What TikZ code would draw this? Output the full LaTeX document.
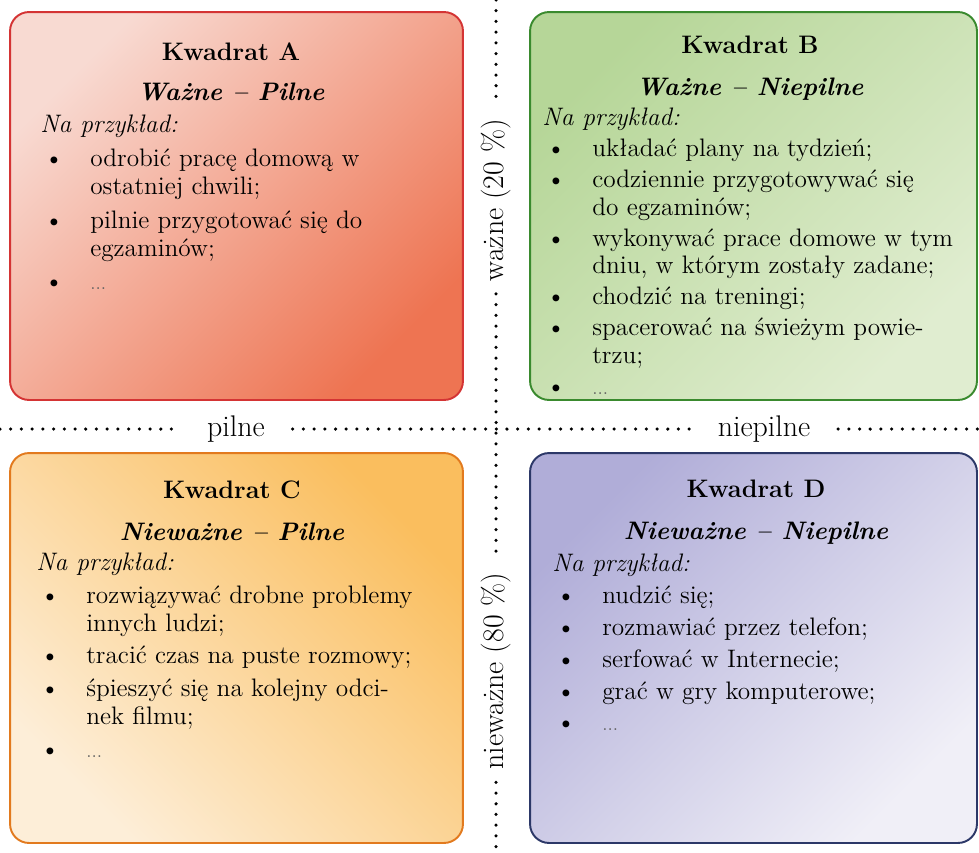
\documentclass[tikz,border=0pt]{standalone}
\usepackage{fontspec}
\usetikzlibrary{positioning}

\definecolor{aJasny}{RGB}{248,218,210}
\definecolor{aCiemny}{RGB}{238,116,82}
\definecolor{aRamka}{RGB}{212,52,52}
\definecolor{bJasny}{RGB}{224,237,208}
\definecolor{bCiemny}{RGB}{182,214,152}
\definecolor{bRamka}{RGB}{58,138,46}
\definecolor{cJasny}{RGB}{253,238,216}
\definecolor{cCiemny}{RGB}{250,190,94}
\definecolor{cRamka}{RGB}{226,122,30}
\definecolor{dJasny}{RGB}{240,239,247}
\definecolor{dCiemny}{RGB}{176,173,216}
\definecolor{dRamka}{RGB}{44,56,104}

\newcommand{\pkt}{\hspace*{0.08cm}\makebox[0.92cm][l]{\textbullet}}
\newcommand{\dal}{\hspace*{1cm}}
\newcommand{\itd}{{\color{gray!75!black}\fontsize{11}{13}\selectfont ...}}

\begin{document}
\begin{tikzpicture}[x=0.02cm, y=-0.02cm,
    kwadrat/.style={rectangle, rounded corners=0.38cm, line width=1.1pt},
    tytul/.style={font=\fontsize{14.4}{16}\selectfont\bfseries, anchor=base},
    podtytul/.style={font=\fontsize{14.4}{16}\selectfont\bfseries\itshape, anchor=base},
    lista/.style={font=\fontsize{14.4}{15.9}\selectfont, align=left,
                  anchor=north west, inner sep=0pt},
    os/.style={font=\fontsize{17}{20}\selectfont, inner xsep=0.55cm},
    kropki/.style={line width=2pt, line cap=round, dash pattern=on 0pt off 6.1pt}]
  \useasboundingbox (0,0) rectangle (979,852);

  % cztery kwadraty
  \node[kwadrat, draw=aRamka, top color=aJasny, bottom color=aCiemny, shading angle=45,
        minimum width=9.06cm, minimum height=7.76cm] (qa) at (236.5,206) {};
  \node[kwadrat, draw=bRamka, top color=bCiemny, bottom color=bJasny, shading angle=45,
        minimum width=8.94cm, minimum height=7.76cm] (qb) at (753.5,206) {};
  \node[kwadrat, draw=cRamka, top color=cCiemny, bottom color=cJasny, shading angle=-45,
        minimum width=9.06cm, minimum height=7.8cm] (qc) at (236.5,648) {};
  \node[kwadrat, draw=dRamka, top color=dCiemny, bottom color=dJasny, shading angle=45,
        minimum width=8.94cm, minimum height=7.8cm] (qd) at (753.5,648) {};

  % kwadrat A
  \node[tytul] (qa-t) at (231,60) {Kwadrat A};
  \node[podtytul] (qa-p) at (231,100) {Ważne -- Pilne};
  \node[lista] (qa-l) at (40,114.4) {\textit{Na przykład:}\\[3.4pt]
    \pkt odrobić pracę domową w\\ \dal ostatniej chwili;\\[3.4pt]
    \pkt pilnie przygotować się do\\ \dal egzaminów;\\[3.4pt]
    \pkt \itd};

  % kwadrat B
  \node[tytul] (qb-t) at (750,53) {Kwadrat B};
  \node[podtytul] (qb-p) at (750,95) {Ważne -- Niepilne};
  \node[lista] (qb-l) at (542,107.4) {\textit{Na przykład:}\\[1.7pt]
    \pkt układać plany na tydzień;\\[1.7pt]
    \pkt codziennie przygotowywać się\\ \dal do egzaminów;\\[1.7pt]
    \pkt wykonywać prace domowe w tym\\ \dal dniu, w którym zostały zadane;\\[1.7pt]
    \pkt chodzić na treningi;\\[1.7pt]
    \pkt spacerować na świeżym powie-\\ \dal trzu;\\[1.7pt]
    \pkt \itd};

  % kwadrat C
  \node[tytul] (qc-t) at (232,498) {Kwadrat C};
  \node[podtytul] (qc-p) at (232,540) {Nieważne -- Pilne};
  \node[lista] (qc-l) at (36,552.4) {\textit{Na przykład:}\\[2.8pt]
    \pkt rozwiązywać drobne problemy\\ \dal innych ludzi;\\[2.8pt]
    \pkt tracić czas na puste rozmowy;\\[2.8pt]
    \pkt śpieszyć się na kolejny odci-\\ \dal nek filmu;\\[2.8pt]
    \pkt \itd};

  % kwadrat D
  \node[tytul] (qd-t) at (756,497) {Kwadrat D};
  \node[podtytul] (qd-p) at (756,539) {Nieważne -- Niepilne};
  \node[lista] (qd-l) at (552,554) {\textit{Na przykład:}\\[2.2pt]
    \pkt nudzić się;\\[2.2pt]
    \pkt rozmawiać przez telefon;\\[2.2pt]
    \pkt serfować w Internecie;\\[2.2pt]
    \pkt grać w gry komputerowe;\\[2.2pt]
    \pkt \itd};

  % osie
  \coordinate (lewo) at (0,429);
  \node[os] (pilne) at (236,429) {pilne};
  \coordinate (srodek) at (496,429);
  \node[os] (niepilne) at (764,429) {niepilne};
  \coordinate (prawo) at (979,429);
  \coordinate (gora) at (496,0);
  \node[os, rotate=90, inner xsep=0.25cm] (wazne) at (496,200) {ważne (20 \%)};
  \node[os, rotate=90, inner xsep=0.25cm] (niewazne) at (496,671) {nieważne (80 \%)};
  \coordinate (dol) at (496,852);

  \draw[kropki] (lewo) -- (pilne);
  \draw[kropki] (pilne) -- (srodek) -- (niepilne);
  \draw[kropki] (niepilne) -- (prawo);
  \draw[kropki] (gora) -- (wazne);
  \draw[kropki] (wazne) -- (niewazne);
  \draw[kropki] (niewazne) -- (dol);
\end{tikzpicture}
\end{document}
